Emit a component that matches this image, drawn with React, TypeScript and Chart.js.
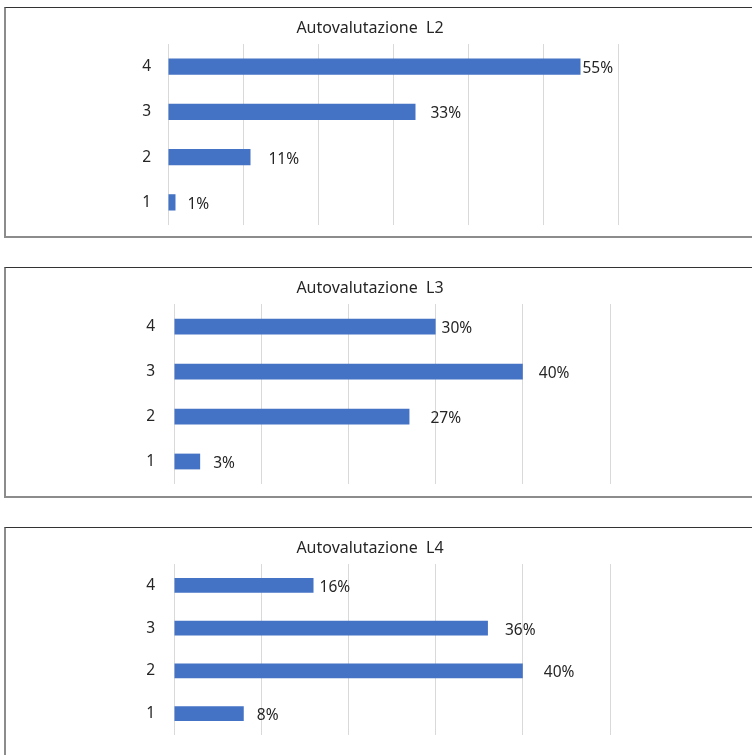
import React, { useEffect, useRef } from "react";
import { Chart, registerables } from "chart.js";

Chart.register(...registerables);

const categories = ["4", "3", "2", "1"];

const titleL2 = "Autovalutazione  L2";
const valuesL2 = [55, 33, 11, 1];
const maxL2 = 60;

const titleL3 = "Autovalutazione  L3";
const valuesL3 = [30, 40, 27, 3];
const maxL3 = 50;

const titleL4 = "Autovalutazione  L4";
const valuesL4 = [16, 36, 40, 8];
const maxL4 = 50;

const labelGaps1 = [2, 15, 18, 12];
const labelGaps2 = [6, 16, 21, 13];
const labelGaps3 = [6, 17, 21, 13];

const FONT = "'Noto Sans', 'Open Sans', sans-serif";
const BAR = "#4472C4";
const GRID = "#d9d9d9";
const TEXT = "#262626";

type Spec = {
  title: string;
  values: number[];
  max: number;
  gaps: number[];
  boxTop: number;
  boxHeight: number;
  canvasHeight: number;
  axisWidth: number;
  tickPad: number;
  padRight: number;
  padBottom: number;
  barPct: number;
};

const labelPlugin = {
  id: "barLabels",
  afterDatasetsDraw(chart: any) {
    const opts = chart.options.plugins.barLabels;
    const gaps: number[] = opts.gaps;
    const ctx = chart.ctx;
    const meta = chart.getDatasetMeta(0);
    const data = chart.data.datasets[0].data;
    ctx.save();
    ctx.font = `15.5px ${FONT}`;
    ctx.fillStyle = TEXT;
    ctx.textAlign = "left";
    ctx.textBaseline = "middle";
    meta.data.forEach((el: any, i: number) => {
      ctx.fillText(`${data[i]}%`, el.x + gaps[i], el.y + 2);
    });
    // chart title, centred on the full (partly hidden) chart frame
    ctx.font = `16px ${FONT}`;
    ctx.textAlign = "center";
    ctx.textBaseline = "middle";
    ctx.fillText(opts.title, 365, 20);
    ctx.restore();
  },
};

function BarBox({ spec }: { spec: Spec }) {
  const ref = useRef<HTMLCanvasElement | null>(null);
  useEffect(() => {
    if (!ref.current) return;
    const chart = new Chart(ref.current, {
      type: "bar",
      data: {
        labels: categories,
        datasets: [
          {
            data: spec.values,
            backgroundColor: BAR,
            borderWidth: 0,
            categoryPercentage: 1,
            barPercentage: spec.barPct,
          },
        ],
      },
      options: {
        indexAxis: "y",
        animation: false,
        responsive: false,
        maintainAspectRatio: false,
        layout: {
          padding: { left: 0, right: spec.padRight, top: 36, bottom: spec.padBottom },
        },
        plugins: {
          legend: { display: false },
          tooltip: { enabled: false },
          title: { display: false },
          barLabels: { gaps: spec.gaps, title: spec.title },
        } as any,
        scales: {
          x: {
            min: 0,
            max: spec.max,
            ticks: { display: false, stepSize: 10 },
            grid: { color: GRID, lineWidth: 1, drawTicks: false },
            border: { display: false },
            afterFit: (axis: any) => {
              axis.height = 0;
              axis.paddingLeft = 0;
              axis.paddingRight = 0;
            },
          },
          y: {
            ticks: {
              color: TEXT,
              font: { family: FONT, size: 15.5 },
              padding: spec.tickPad,
            },
            grid: { display: false, drawTicks: false },
            border: { display: false },
            afterFit: (axis: any) => {
              axis.width = spec.axisWidth;
              axis.paddingTop = 0;
              axis.paddingBottom = 0;
            },
          },
        },
      },
      plugins: [labelPlugin],
    } as any);
    return () => chart.destroy();
  }, [spec]);

  return (
    <>
      <div
        style={{
          position: "absolute",
          left: 4,
          top: spec.boxTop,
          width: 800,
          height: spec.boxHeight,
          borderTop: "1px solid #333333",
          borderLeft: "2px solid #8c8c8c",
          borderBottom: "2px solid #8c8c8c",
          boxSizing: "border-box",
          background: "#ffffff",
        }}
      />
      <canvas
        ref={ref}
        width={747}
        height={spec.canvasHeight}
        style={{
          position: "absolute",
          left: 5,
          top: spec.boxTop + 1,
          width: 747,
          height: spec.canvasHeight,
        }}
      />
    </>
  );
}

const specs: Spec[] = [
  {
    title: titleL2,
    values: valuesL2,
    max: maxL2,
    gaps: labelGaps1,
    boxTop: 7,
    boxHeight: 231,
    canvasHeight: 228,
    axisWidth: 163,
    tickPad: 17,
    padRight: 134,
    padBottom: 11,
    barPct: 0.36,
  },
  {
    title: titleL3,
    values: valuesL3,
    max: maxL3,
    gaps: labelGaps2,
    boxTop: 267,
    boxHeight: 231,
    canvasHeight: 228,
    axisWidth: 169,
    tickPad: 19,
    padRight: 142,
    padBottom: 12,
    barPct: 0.35,
  },
  {
    title: titleL4,
    values: valuesL4,
    max: maxL4,
    gaps: labelGaps3,
    boxTop: 527,
    boxHeight: 260,
    canvasHeight: 227,
    axisWidth: 169,
    tickPad: 19,
    padRight: 142,
    padBottom: 20,
    barPct: 0.35,
  },
];

export default function App() {
  return (
    <div
      style={{
        position: "fixed",
        left: 0,
        top: 0,
        width: "100vw",
        height: "100vh",
        overflow: "hidden",
        background: "#ffffff",
      }}
    >
      {specs.map((s) => (
        <BarBox key={s.title} spec={s} />
      ))}
    </div>
  );
}
